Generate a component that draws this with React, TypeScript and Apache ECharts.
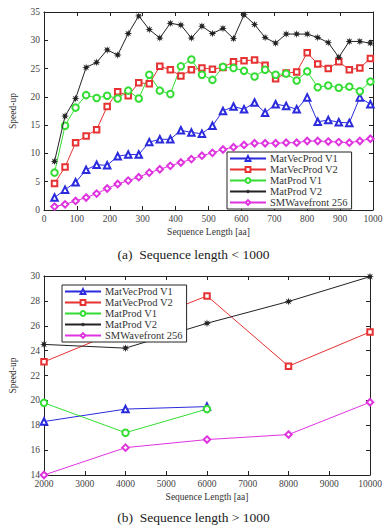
import React, { useEffect, useRef } from "react";
import * as echarts from "echarts";

// ---------- data ----------
const seriesNames = ["MatVecProd V1", "MatVecProd V2", "MatProd V1", "MatProd V2", "SMWavefront 256"];

const xTop = [32, 64, 96, 128, 160, 192, 224, 256, 288, 320, 352, 384, 416, 448, 480, 512, 544, 576, 608, 640, 672, 704, 736, 768, 800, 832, 864, 896, 928, 960, 992];
const mvp1Top = [2.2, 3.6, 4.9, 7.1, 8.0, 7.9, 9.5, 9.8, 9.8, 12.0, 12.5, 12.5, 14.1, 13.7, 13.5, 14.9, 17.5, 18.3, 17.8, 19.0, 17.2, 18.7, 18.4, 17.8, 19.9, 15.6, 15.9, 15.5, 15.4, 19.9, 18.7];
const mvp2Top = [4.7, 7.6, 11.9, 13.1, 14.2, 18.3, 20.9, 20.2, 22.5, 22.3, 25.4, 24.8, 23.7, 24.8, 25.1, 24.9, 25.2, 26.2, 26.4, 26.5, 25.6, 23.2, 24.2, 24.4, 27.8, 25.8, 25.0, 26.2, 24.8, 25.1, 26.8];
const mp1Top = [6.6, 14.9, 18.1, 20.3, 19.8, 20.2, 19.7, 21.1, 19.7, 23.9, 21.1, 20.5, 25.4, 26.6, 23.9, 23.0, 25.3, 25.1, 24.6, 23.6, 24.8, 23.9, 24.1, 22.9, 24.5, 21.7, 22.0, 21.6, 21.8, 21.0, 22.7];
const mp2Top = [8.6, 16.6, 19.7, 25.2, 26.1, 28.3, 27.4, 31.2, 34.3, 31.9, 30.4, 33.0, 32.7, 30.4, 32.5, 31.2, 32.1, 30.3, 34.5, 32.8, 30.5, 29.5, 31.1, 31.1, 31.1, 30.5, 29.6, 27.0, 29.8, 29.8, 29.5];
const smwTop = [0.6, 1.0, 1.6, 2.2, 2.9, 3.8, 4.6, 5.2, 5.8, 6.6, 7.2, 7.8, 8.4, 9.0, 9.6, 10.1, 10.7, 11.1, 11.5, 11.8, 11.8, 11.8, 11.9, 11.9, 12.2, 12.2, 12.1, 12.0, 11.9, 12.2, 12.6];

const xBottom = [2000, 4000, 6000, 8000, 10000];
const mvp1Bottom = [18.3, 19.3, 19.5];
const mvp2Bottom = [23.1, 25.8, 28.4, 22.75, 25.5];
const mp1Bottom = [19.8, 17.4, 19.3];
const mp2Bottom = [24.5, 24.2, 26.2, 27.95, 29.95];
const smwBottom = [14.0, 16.2, 16.85, 17.25, 19.85];

const captionTop = "(a)  Sequence length < 1000";
const captionBottom = "(b)  Sequence length > 1000";
const xTitle = "Sequence Length [aa]";
const yTitle = "Speed-up";

// ---------- styles ----------
const FONT = "Liberation Serif";
const colors = ["#2b2bdd", "#e63232", "#33dd33", "#222222", "#e033e0"];

function starPath(): string {
  let d = "path://";
  for (let i = 0; i < 16; i++) {
    const a = (i * Math.PI) / 8 - Math.PI / 2;
    const r = i % 2 === 0 ? 10 : 4.2;
    const x = (10 + r * Math.cos(a)).toFixed(2);
    const y = (10 + r * Math.sin(a)).toFixed(2);
    d += (i === 0 ? "M" : "L") + x + " " + y + " ";
  }
  return d + "Z";
}

const symbols = ["emptyTriangle", "emptyRect", "emptyCircle", starPath(), "emptyDiamond"];
const symbolSizes = [6.5, 5.5, 6.5, 8, 6.5];

function pairs(xs: number[], ys: number[]) {
  return ys.map((y, i) => [xs[i], y]);
}

function makeSeries(idx: number, xs: number[], ys: number[], axisIndex: number) {
  return {
    type: "line",
    name: seriesNames[idx],
    xAxisIndex: axisIndex,
    yAxisIndex: axisIndex,
    data: pairs(xs, ys),
    symbol: symbols[idx],
    symbolSize: symbolSizes[idx],
    showAllSymbol: true,
    lineStyle: { color: colors[idx], width: 1 },
    itemStyle: { color: colors[idx], borderWidth: 1 },
    emphasis: { disabled: true },
    z: idx === 3 ? 3 : 2,
  };
}

const axisCommon = {
  axisLine: { show: true, onZero: false, lineStyle: { color: "#222", width: 1 } },
  axisTick: { show: true, inside: true, length: 4, lineStyle: { color: "#222" } },
  splitLine: { show: false },
};

const labelStyle = { fontFamily: FONT, fontSize: 9.5, color: "#444", formatter: (v: number) => String(v) };

function gridAxes(gridIndex: number, xmin: number, xmax: number, xint: number, ymin: number, ymax: number, yint: number) {
  const xAxes = [
    {
      type: "value",
      gridIndex,
      position: "bottom",
      min: xmin,
      max: xmax,
      interval: xint,
      ...axisCommon,
      axisLabel: { ...labelStyle, margin: 4 },
      name: xTitle,
      nameLocation: "middle",
      nameGap: 17,
      nameTextStyle: { fontFamily: FONT, fontSize: 9.5, color: "#333" },
    },
    {
      type: "value",
      gridIndex,
      position: "top",
      min: xmin,
      max: xmax,
      interval: xint,
      ...axisCommon,
      axisLabel: { show: false },
    },
  ];
  const yAxes = [
    {
      type: "value",
      gridIndex,
      position: "left",
      min: ymin,
      max: ymax,
      interval: yint,
      ...axisCommon,
      axisLabel: { ...labelStyle, margin: 4 },
      name: yTitle,
      nameLocation: "middle",
      nameGap: 26,
      nameRotate: 90,
      nameTextStyle: { fontFamily: FONT, fontSize: 9.5, color: "#333" },
    },
    {
      type: "value",
      gridIndex,
      position: "right",
      min: ymin,
      max: ymax,
      interval: yint,
      ...axisCommon,
      axisLabel: { show: false },
    },
  ];
  return { xAxes, yAxes };
}

function legend(left: number, top: number) {
  return {
    data: seriesNames,
    orient: "vertical",
    left,
    top,
    backgroundColor: "#fff",
    borderColor: "#222",
    borderWidth: 1,
    borderRadius: 0,
    padding: [1, 4, 1, 2],
    itemGap: 0,
    itemWidth: 36,
    itemHeight: 6,
    selectedMode: false,
    textStyle: { fontFamily: FONT, fontSize: 10.5, color: "#333", lineHeight: 9.4, padding: [0, 0, 0, -1] },
    z: 10,
  };
}

export default function App() {
  const ref = useRef<HTMLDivElement>(null);
  useEffect(() => {
    if (!ref.current) return;
    document.body.style.margin = "0";
    const chart = echarts.init(ref.current, undefined, { renderer: "svg" });
    const g0 = gridAxes(0, 0, 1000, 100, 0, 35, 5);
    const g1 = gridAxes(1, 2000, 10000, 1000, 14, 30, 2);
    const topData = [mvp1Top, mvp2Top, mp1Top, mp2Top, smwTop];
    const botData = [mvp1Bottom, mvp2Bottom, mp1Bottom, mp2Bottom, smwBottom];
    const series: any[] = [];
    topData.forEach((ys, i) => series.push(makeSeries(i, xTop, ys, 0)));
    botData.forEach((ys, i) => series.push(makeSeries(i, xBottom, ys, 2)));

    chart.setOption({
      animation: false,
      backgroundColor: "#fff",
      grid: [
        { left: 40, top: 12, width: 333, height: 198, containLabel: false },
        { left: 39.5, top: 276, width: 330.5, height: 199, containLabel: false },
      ],
      xAxis: [...g0.xAxes, ...g1.xAxes],
      yAxis: [...g0.yAxes, ...g1.yAxes],
      legend: [legend(227, 152), legend(62, 285)],
      series,
      graphic: [
        {
          type: "text",
          left: "center",
          top: 247,
          style: { text: captionTop, fontFamily: FONT, fontSize: 13.5, fill: "#222" },
        },
        {
          type: "text",
          left: "center",
          top: 510,
          style: { text: captionBottom, fontFamily: FONT, fontSize: 13.5, fill: "#222" },
        },
      ],
    });
    return () => chart.dispose();
  }, []);
  return <div ref={ref} style={{ width: 387, height: 530, position: "absolute", left: 0, top: 0 }} />;
}
